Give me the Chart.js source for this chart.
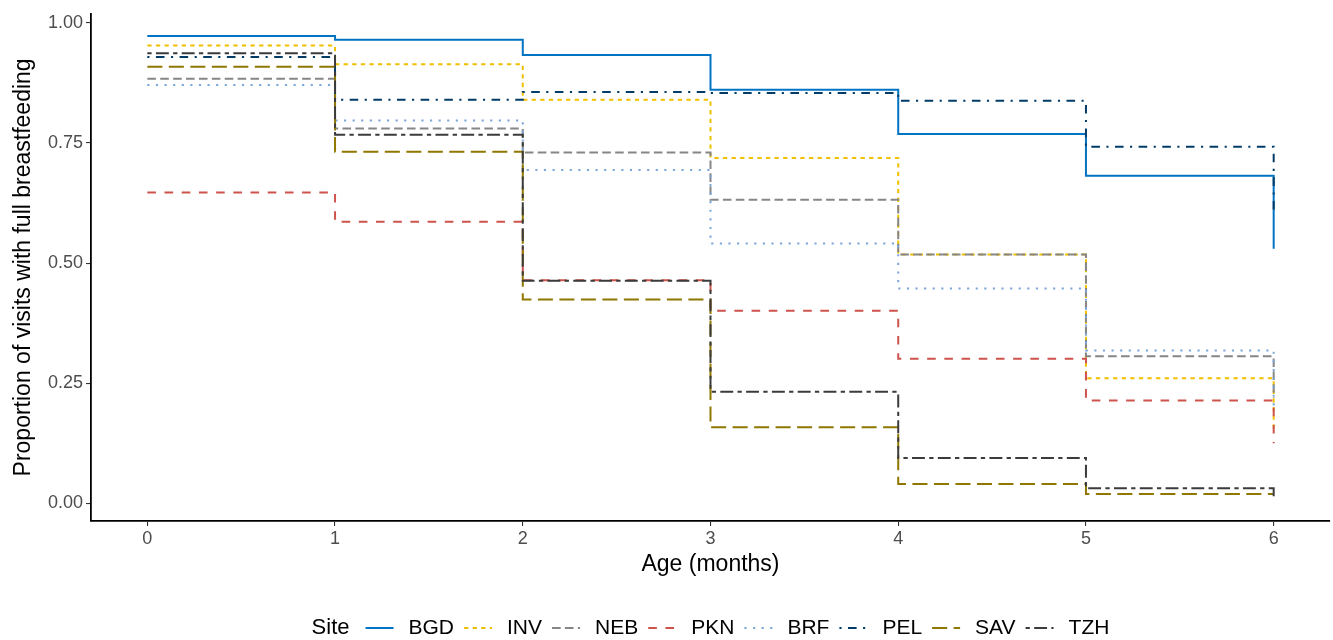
<!DOCTYPE html>
<html>
<head>
<meta charset="utf-8">
<script src="https://cdn.jsdelivr.net/npm/chart.js@4.4.0/dist/chart.umd.min.js"></script>
<style>
  html, body { margin: 0; padding: 0; background: #fff; }
</style>
</head>
<body>
<canvas id="myChart" width="1333" height="640"></canvas>
<script>
// age in months (x) and proportion of visits with full breastfeeding per site
var months = [0, 1, 2, 3, 4, 5, 6];
var xTicks = [0, 1, 2, 3, 4, 5, 6];
var yTicks = [0, 0.25, 0.5, 0.75, 1];
var yTickLabels = ['0.00', '0.25', '0.50', '0.75', '1.00'];
var sites = ['BGD', 'INV', 'NEB', 'PKN', 'BRF', 'PEL', 'SAV', 'TZH'];

var bgd = [0.973, 0.965, 0.933, 0.861, 0.769, 0.682, 0.530];
var inv = [0.953, 0.914, 0.840, 0.719, 0.518, 0.260, 0.152];
var neb = [0.884, 0.780, 0.730, 0.632, 0.518, 0.306, 0.220];
var pkn = [0.647, 0.586, 0.464, 0.401, 0.301, 0.214, 0.125];
var brf = [0.871, 0.797, 0.694, 0.541, 0.447, 0.318, 0.200];
var pel = [0.929, 0.840, 0.856, 0.854, 0.838, 0.742, 0.603];
var sav = [0.909, 0.732, 0.424, 0.158, 0.040, 0.019, 0.019];
var tzh = [0.937, 0.767, 0.463, 0.232, 0.094, 0.031, 0.014];

var values = [bgd, inv, neb, pkn, brf, pel, sav, tzh];

var colors = ['#0073C2', '#EFC000', '#868686', '#CD534C', '#7AA6DC', '#003C67', '#8F7700', '#3B3B3B'];
var unit = 2.15;
var dashes = [[], [2, 2], [4, 2], [4, 4], [1, 3], [1, 3, 4, 3], [7, 3], [2, 2, 6, 2]].map(function(d) {
  return d.map(function(v) { return v * unit; });
});

var fontFamily = '"Liberation Sans", Arial, Helvetica, sans-serif';

// ggplot-style legend along the bottom, with "Site" title inline
var siteLegend = {
  id: 'siteLegend',
  afterDraw: function(chart) {
    var c = chart.ctx;
    var ds = chart.data.datasets;
    var keyW = 28, keyGap = 15, itemGap = 10;
    c.save();
    c.textBaseline = 'middle';
    c.textAlign = 'left';
    c.font = '22px ' + fontFamily;
    var titleW = c.measureText('Site').width;
    c.font = '21px ' + fontFamily;
    var total = titleW + 16;
    ds.forEach(function(d, i) {
      total += keyW + keyGap + c.measureText(d.label).width + (i < ds.length - 1 ? itemGap : 0);
    });
    var mid = (chart.chartArea.left + chart.chartArea.right) / 2;
    var x = mid - total / 2, y = 628;
    c.fillStyle = '#000';
    c.font = '22px ' + fontFamily;
    c.fillText('Site', x, y);
    x += titleW + 16;
    c.font = '21px ' + fontFamily;
    ds.forEach(function(d) {
      c.beginPath();
      c.strokeStyle = d.borderColor;
      c.lineWidth = d.borderWidth;
      c.lineCap = 'butt';
      c.setLineDash(d.borderDash);
      c.moveTo(x, y);
      c.lineTo(x + keyW, y);
      c.stroke();
      c.setLineDash([]);
      x += keyW + keyGap;
      c.fillText(d.label, x, y);
      x += c.measureText(d.label).width + itemGap;
    });
    c.restore();
  }
};

var ctx = document.getElementById('myChart');
var chart = new Chart(ctx, {
  type: 'line',
  data: {
    datasets: sites.map(function(s, i) {
      return {
        label: s,
        data: months.map(function(m, j) { return { x: m, y: values[i][j] }; }),
        borderColor: colors[i],
        backgroundColor: colors[i],
        borderDash: dashes[i],
        borderWidth: 2,
        borderCapStyle: 'butt',
        borderJoinStyle: 'miter',
        stepped: 'before',
        pointRadius: 0,
        fill: false,
        order: sites.length - i
      };
    })
  },
  options: {
    responsive: false,
    animation: false,
    layout: { padding: { left: 0, right: 3, top: 13, bottom: 62 } },
    plugins: {
      legend: { display: false },
      tooltip: { enabled: false }
    },
    scales: {
      x: {
        type: 'linear',
        min: -0.3,
        max: 6.3,
        afterBuildTicks: function(scale) {
          scale.ticks = xTicks.map(function(v) { return { value: v }; });
        },
        afterFit: function(scale) { scale.height = 57; },
        ticks: {
          font: { family: fontFamily, size: 18 },
          color: '#4d4d4d',
          padding: 2,
          maxRotation: 0,
          autoSkip: false,
          callback: function(v) { return String(v); }
        },
        grid: { drawOnChartArea: false, drawTicks: true, tickLength: 5, color: '#333', lineWidth: 1.1 },
        border: { display: true, color: '#000', width: 1.8 },
        title: {
          display: true,
          text: 'Age (months)',
          font: { family: fontFamily, size: 23 },
          color: '#000',
          padding: 0
        }
      },
      y: {
        type: 'linear',
        min: -0.037,
        max: 1.019,
        afterBuildTicks: function(scale) {
          scale.ticks = yTicks.map(function(v) { return { value: v }; });
        },
        afterFit: function(scale) { scale.width = 91; },
        ticks: {
          font: { family: fontFamily, size: 18 },
          color: '#4d4d4d',
          padding: 3,
          autoSkip: false,
          callback: function(v) {
            var k = yTicks.indexOf(v);
            return k >= 0 ? yTickLabels[k] : '';
          }
        },
        grid: { drawOnChartArea: false, drawTicks: true, tickLength: 5, color: '#333', lineWidth: 1.1 },
        border: { display: true, color: '#000', width: 1.8 },
        title: {
          display: true,
          text: 'Proportion of visits with full breastfeeding',
          font: { family: fontFamily, size: 23 },
          color: '#000',
          padding: { top: 10, bottom: 0 }
        }
      }
    }
  },
  plugins: [siteLegend]
});
</script>
</body>
</html>
